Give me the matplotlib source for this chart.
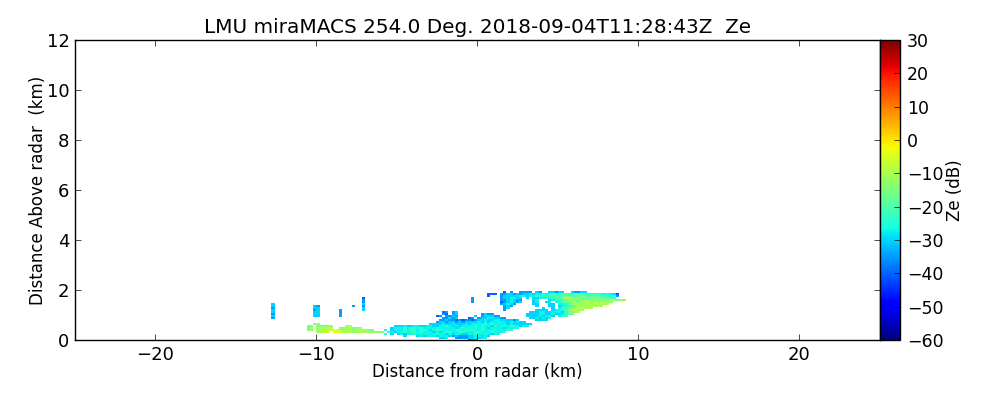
#!/usr/bin/env python3
"""RHI reflectivity scan, LMU miraMACS."""

import matplotlib
matplotlib.use('Agg')
import matplotlib.pyplot as plt
import numpy as np

# Ze value for each letter in the scan rows below (dB)
ZE_LEVELS = dict(zip("abcdefghijklm",
                     [-45, -40, -35, -30, -27, -24, -21, -18, -15, -12, -9, -6, -3]))

# range bins and height gates of the scan (km)
RANGE_EDGES = np.arange(-13.0, 11.01, 0.2)
HEIGHT_EDGES = np.arange(-0.04, 1.97, 0.08)

# one row per height gate, top gate first; every "|" block is 10 range bins
SCAN_ROWS = [
    "|||||||   b c  cc|cc dc  ddc|dd  dccdd",
    "||||||        bb|b ccddcdcd|dedeefefgf|fghgfhhggf|gfgfefedb",
    "||||||        b |  cdddddee|deeffggfgh|ghiihgiihg|hihghgfgc",
    "||         b||||   c|  cddeedd|d ddeefegg|gijjiijhih|ihihghgf",
    "||         c||||   c|  ccdedcc|  de   def|fghijihijj|ijijjijjij|j",
    "||         c||||   c|  bcdedcd|  de  de e|fghijjijkj|jkjkjjj",
    " d||         d|||||  cdedc|  dd   dd e|efhijkjjkj|kjkjk",
    " d|    dc|      c  c|||||   cdc|   d   dd d|effhikjkjk|jkj",
    " c|    dd|         d|||||   cd|     d  d |efgijkjkjk|k",
    " d|    cd|  c      d|||||   c|   dddd de|efgijkjk",
    " d|    dd|  c|||    bc cd||| dddeeddee|edfhijk",
    " c|    dd|  c|||    cb cd|      cdcc||ddddeedded|defhi",
    " d|    dd|  c|||  bc ccdc|    d cddd|cc|ddddedeed|efg",
    " c|||||    ccdcd|  bc cddee|ddcc| ddedede",
    "|||||   ccdccbc|bccbcddedd|eeddddcd|   dddd",
    "|||||  cddcddcd|cddddedede|eeeedededd",
    "|    jj||||ddddeddedd|dedeeeefef|eeeededddd|dd",
    "|  ii iijjj|    kk|         d|ddeddeedde|eddeefeded|eeeefefeed|feefeffede|e",
    "|  ij jkkjk|  iijjijj|        de|eefeffefee|eefeeeeede|fefefefede|eeedeeef",
    "|  ij jkkll|mlkjkkjjkj|jii   f de|eefegfeffe|deffeeeeff|efffeefeee|feeeff",
    "|     jjkl|mmlkjkjjkj|kjjjii fed|eefefgefee|ededeffeef|feeeffeeef|eeef",
    "|||      f d|dedeefeeee|eefeededee|ddeefeeeed|ee",
    "||||  d   dede|eedeeedcdc|ccddeeded",
    "|||||   dde  cc|ccddedee",
    "||||||  bcc",
]


def rows_to_grid(rows, n_cols):
    grid = np.full((len(rows), n_cols), np.nan)
    for i, row in enumerate(rows[::-1]):
        cells = "".join(block.ljust(10) for block in row.split("|"))
        for j, ch in enumerate(cells[:n_cols]):
            if ch != " ":
                grid[i, j] = ZE_LEVELS[ch]
    return np.ma.masked_invalid(grid)


plt.style.use('classic')
plt.rcParams['font.family'] = 'DejaVu Sans'

fig = plt.figure(figsize=(10, 4), dpi=100, facecolor='white')
ax = fig.add_axes([0.075, 0.15, 0.805, 0.75])
cax = fig.add_axes([0.88, 0.15, 0.02, 0.75])

ze = rows_to_grid(SCAN_ROWS, len(RANGE_EDGES) - 1)
mesh = ax.pcolormesh(RANGE_EDGES, HEIGHT_EDGES, ze, cmap='jet', vmin=-60, vmax=30)

ax.set_xlim(-25, 25.01)
ax.set_ylim(0, 12)
ax.set_xticks([-20, -10, 0, 10, 20])
ax.set_yticks(np.arange(0, 13, 2))
ax.tick_params(labelsize=13)
ax.tick_params(axis='x', pad=4)
ax.set_xlabel("Distance from radar (km)", fontsize=12, labelpad=-0.5)
ax.set_ylabel("Distance Above radar  (km)", fontsize=12, labelpad=0)
ax.set_title("LMU miraMACS 254.0 Deg. 2018-09-04T11:28:43Z  Ze", fontsize=14.4, y=1.0)

cbar = fig.colorbar(mesh, cax=cax, ticks=np.arange(-60, 31, 10))
cbar.ax.tick_params(labelsize=12.5, pad=5)
cbar.set_label("Ze (dB)", fontsize=12, labelpad=1.5)

for label in ax.get_yticklabels() + cbar.ax.get_yticklabels():
    label.set_verticalalignment('center_baseline')

fig.savefig("out.png", dpi=100)
plt.close(fig)
